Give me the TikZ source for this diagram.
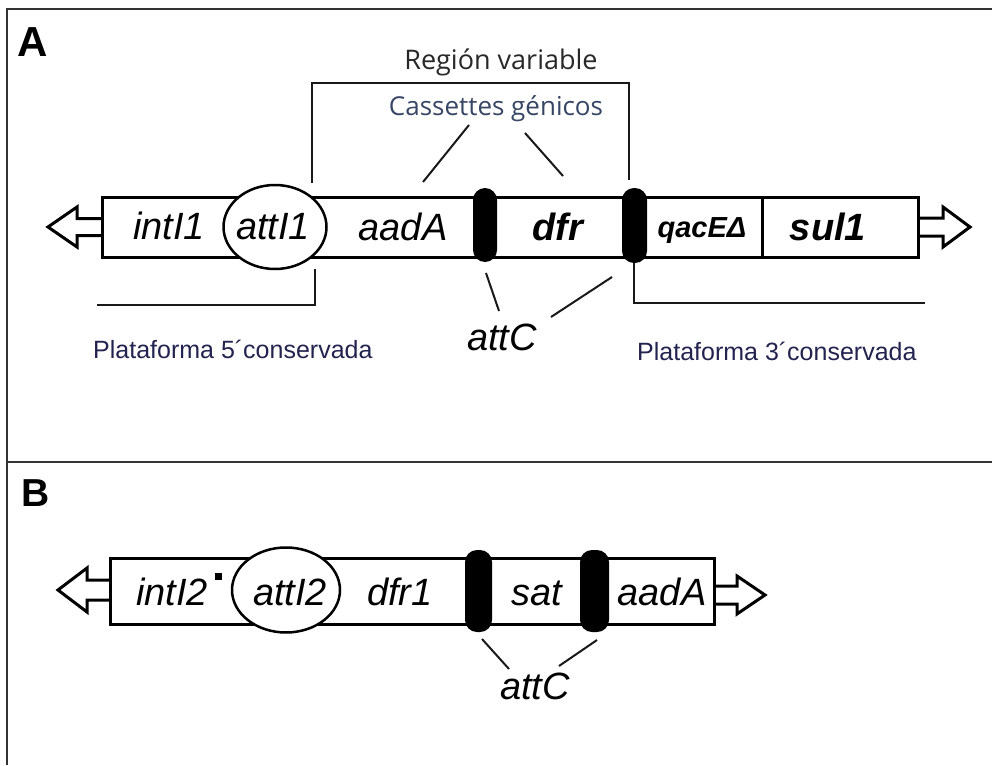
\documentclass[tikz,border=0pt]{standalone}
\usepackage{fontspec}
\setmainfont{Liberation Sans}
\newfontfamily\osans{Open Sans}
\definecolor{navy}{RGB}{35,35,80}
\definecolor{slate}{RGB}{55,70,100}
\definecolor{dgrey}{RGB}{40,40,40}
\begin{document}
\begin{tikzpicture}[x=1pt,y=-1pt,
  frame/.style={line width=2pt,draw=black!80},
  bar/.style={line width=3pt,draw=black,fill=white},
  blockarrow/.style={line width=3pt,draw=black,fill=white,line join=miter},
  site/.style={fill=black,rounded corners=12pt},
  thin/.style={line width=2pt,draw=black!90},
  gene/.style={font=\fontsize{38}{40}\selectfont\itshape,anchor=base,inner sep=0pt},
  bgene/.style={font=\fontsize{38}{40}\selectfont\bfseries\itshape,anchor=base,inner sep=0pt},
  plat/.style={font=\fontsize{25}{28}\selectfont,text=navy,anchor=base west,inner sep=0pt},
  panel/.style={font=\fontsize{42}{44}\selectfont\bfseries,anchor=base west,inner sep=0pt}
]
\useasboundingbox (0,0) rectangle (992,765);
\fill[white] (0,0) rectangle (992,765);
% frame
\draw[frame] (992,9) -- (7,9) -- (7,765);
\draw[frame] (7,462) -- (992,462);

% ---------------- Panel A ----------------
\node[panel] (labA) at (17,57) {A};

\node[font=\osans\fontsize{27}{30}\selectfont,text=dgrey,anchor=base,inner sep=0pt] (region) at (501,70) {Región variable};
\coordinate (brL) at (312,183);
\coordinate (brR) at (629,180);
\draw[thin] (brL) |- (470,83) -| (brR);

\node[font=\osans\fontsize{26}{30}\selectfont,text=slate,anchor=base,inner sep=0pt] (cass) at (496,115) {Cassettes génicos};
\coordinate (c1a) at (469,125); \coordinate (c1b) at (423,182);
\coordinate (c2a) at (525,133); \coordinate (c2b) at (563,176);
\draw[thin] (c1a) -- (c1b);
\draw[thin] (c2a) -- (c2b);

% arrows
\draw[blockarrow] (102,218.5) -- (77,218.5) -- (77,207) -- (48,227) -- (77,247) -- (77,235.5) -- (102,235.5);
\draw[blockarrow] (918,218) -- (943,218) -- (943,207) -- (970,227) -- (943,247) -- (943,236) -- (918,236);
% bar
\draw[bar] (102,197) rectangle (918,257);
\draw[line width=3pt] (762,197) -- (762,257);
\draw[line width=2.5pt,fill=white] (275,227) ellipse [x radius=51.5, y radius=42];
\fill[site] (473,188) rectangle (497,262);
\fill[site] (622,188) rectangle (647,263);

\node[gene] (int1) at (169,239) {intI1};
\node[gene] (att1) at (273,239) {attI1};
\node[gene] (aadA1) at (403,240) {aadA};
\node[bgene] (dfr) at (558,240) {dfr};
\node[font=\fontsize{29}{30}\selectfont\bfseries\itshape,anchor=base,inner sep=0pt] (qac) at (702,237) {qacEΔ};
\node[bgene] (sul) at (828,240) {sul1};

% lower brackets
\coordinate (p5a) at (315,269);
\coordinate (p5b) at (97,305);
\draw[thin] (p5a) |- (p5b);
\coordinate (p3a) at (634,263);
\coordinate (p3b) at (925,303);
\draw[thin] (p3a) |- (p3b);
\node[plat] (plat5) at (93,358) {Plataforma 5´conservada};
\node[plat] (plat3) at (637,360) {Plataforma 3´conservada};

% attC A
\node[gene] (attCA) at (502,350) {attC};
\coordinate (a1a) at (486,273); \coordinate (a1b) at (499,311);
\coordinate (a2a) at (612,277); \coordinate (a2b) at (551,317);
\draw[thin] (a1a) -- (a1b);
\draw[thin] (a2a) -- (a2b);

% ---------------- Panel B ----------------
\node[panel,font=\fontsize{39}{42}\selectfont\bfseries] (labB) at (21,506) {B};

\draw[blockarrow] (110,580) -- (87,580) -- (87,568) -- (58,590) -- (87,612) -- (87,600) -- (110,600);
\draw[blockarrow] (714,586) -- (737,586) -- (737,576) -- (765,595) -- (737,614) -- (737,604) -- (714,604);
\draw[bar] (110,558) rectangle (714,624);
\draw[line width=2.5pt,fill=white] (286,590) ellipse [x radius=54, y radius=42.5];
\fill[site] (465,550) rectangle (492,632);
\fill[site] (580,550) rectangle (609,632);

\node[gene] (int2) at (172,605) {intI2};
\fill (215,573) rectangle (222,580);
\node[gene] (att2) at (290,605) {attI2};
\node[gene] (dfr1) at (400,605) {dfr1};
\node[gene] (sat) at (537,605) {sat};
\node[gene] (aadA2) at (662,605) {aadA};

\node[gene] (attCB) at (535,699) {attC};
\coordinate (b1a) at (482,639); \coordinate (b1b) at (509,669);
\coordinate (b2a) at (597,640); \coordinate (b2b) at (559,666);
\draw[thin] (b1a) -- (b1b);
\draw[thin] (b2a) -- (b2b);
\end{tikzpicture}
\end{document}
